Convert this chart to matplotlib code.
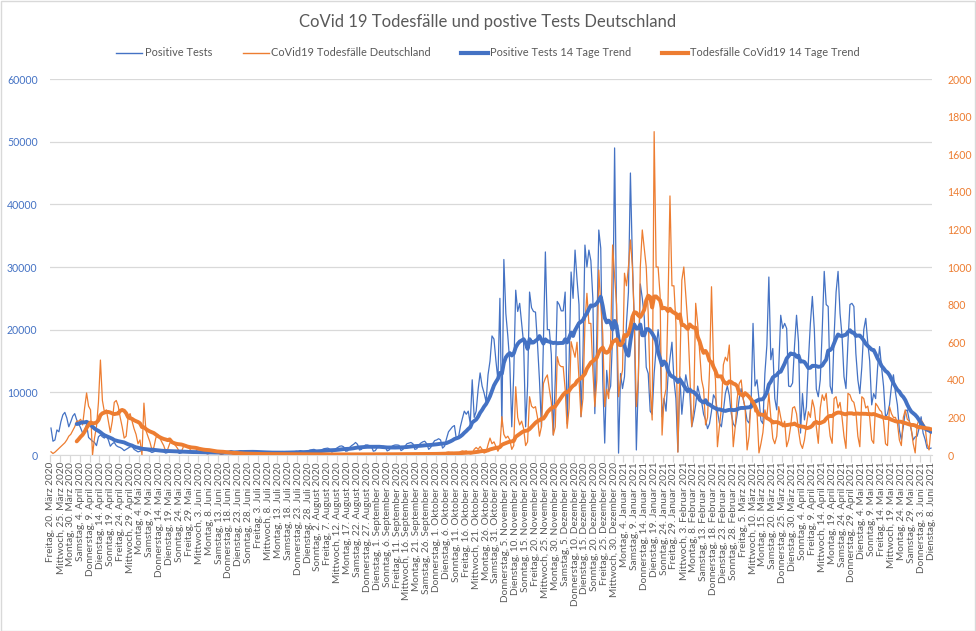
import numpy as np
import pandas as pd
import matplotlib
matplotlib.use('Agg')
import matplotlib.pyplot as plt
from matplotlib.patches import Rectangle
from matplotlib.lines import Line2D

plt.rcParams['font.family'] = ['Lato', 'DejaVu Sans']

BLUE = '#4472C4'
ORANGE = '#ED7D31'
GREY = '#595959'
GRID = '#D9D9D9'

start_date = '2020-03-20'

# daily values, one row per week (Freitag .. Donnerstag)
positive_tests = [
    [4300, 2200, 2400, 4000, 3700, 5300, 6400],
    [6800, 5900, 4500, 5300, 6200, 6600, 5600],
    [5000, 4300, 3500, 3800, 4900, 2800, 2500],
    [2200, 2000, 1500, 2900, 3200, 2900, 2700],
    [3100, 2400, 1400, 1800, 2000, 1500, 1300],
    [1200, 1000, 700, 900, 1100, 1300, 1400],
    [900, 700, 500, 600, 800, 1000, 900],
    [700, 600, 400, 500, 700, 800, 700],
    [600, 500, 300, 400, 600, 700, 600],
    [500, 450, 250, 350, 500, 600, 550],
    [500, 400, 250, 300, 450, 550, 500],
    [450, 350, 200, 250, 400, 500, 450],
    [400, 300, 200, 250, 400, 550, 600],
    [700, 600, 500, 300, 600, 700, 600],
    [500, 400, 250, 300, 450, 500, 450],
    [450, 350, 200, 300, 400, 500, 450],
    [400, 350, 200, 250, 400, 550, 500],
    [550, 400, 250, 300, 500, 600, 550],
    [700, 600, 300, 450, 650, 800, 850],
    [900, 750, 400, 550, 850, 1000, 1050],
    [1100, 900, 450, 600, 1000, 1200, 1400],
    [1450, 1300, 600, 650, 1200, 1500, 1700],
    [2000, 1700, 800, 900, 1300, 1600, 1600],
    [1500, 1400, 600, 700, 1200, 1400, 1300],
    [1400, 1300, 650, 800, 1300, 1500, 1600],
    [1600, 1550, 700, 900, 1400, 1800, 1900],
    [2000, 1800, 900, 1000, 1600, 1900, 2100],
    [2200, 1800, 900, 1200, 1800, 2300, 2400],
    [2600, 2400, 1100, 1400, 2600, 3700, 4100],
    [4500, 4700, 2500, 2700, 4500, 5800, 7000],
    [6500, 7000, 5000, 12000, 6000, 7000, 10500],
    [13100, 11000, 9900, 8500, 12800, 15000, 19000],
    [18500, 15000, 12000, 25000, 4500, 31200, 22600],
    [19000, 14700, 4500, 13000, 26300, 22900, 24200],
    [21000, 17800, 4500, 11000, 26000, 23500, 22900],
    [22800, 17800, 12000, 4500, 18000, 32400, 20000],
    [20000, 16000, 3200, 12000, 24500, 24000, 23000],
    [23000, 26000, 5000, 15000, 29200, 25000, 32700],
    [28000, 24000, 6100, 16000, 33500, 30000, 32700],
    [31000, 25000, 6600, 19000, 35900, 33000, 12000],
    [1900, 13500, 10000, 11000, 19000, 49000, 22000],
    [300, 13000, 10600, 12500, 21000, 26000, 45000],
    [31000, 21000, 800, 12000, 27300, 25000, 22000],
    [14000, 13000, 7000, 6500, 13000, 17000, 20000],
    [17000, 6100, 9000, 7000, 12500, 15400, 18000],
    [12000, 9000, 500, 12500, 6500, 10000, 12800],
    [11000, 10000, 4500, 6000, 8000, 11000, 9600],
    [8500, 6500, 5600, 4200, 5000, 7000, 9600],
    [9000, 7000, 5100, 4500, 7000, 9800, 11000],
    [9500, 6600, 5000, 4500, 6500, 9000, 10600],
    [9000, 7500, 5500, 5100, 8000, 21000, 11000],
    [12000, 9000, 5500, 5000, 13000, 17500, 28400],
    [15200, 17000, 9000, 7200, 14000, 22300, 20200],
    [21000, 20200, 11000, 10900, 11500, 17500, 22300],
    [18000, 3500, 9800, 5600, 7700, 15000, 21000],
    [25300, 20000, 10500, 9300, 12000, 20000, 29300],
    [24000, 23700, 11000, 9800, 19000, 26000, 29300],
    [22600, 19000, 12500, 10600, 18000, 24000, 24200],
    [23700, 16200, 12000, 9800, 14000, 20000, 21800],
    [18000, 15000, 8000, 9800, 9000, 14000, 17300],
    [14000, 11000, 6000, 6600, 8000, 11000, 12800],
    [10000, 8000, 4000, 2400, 4500, 7000, 7200],
    [5500, 4000, 2400, 2900, 3000, 4300, 6100],
    [3500, 2500, 1100, 1000, 1100],
]

deaths = [
    [17, 8, 15, 25, 35, 45, 55],
    [65, 80, 100, 110, 130, 150, 180],
    [180, 190, 160, 250, 330, 260, 240],
    [0, 90, 150, 280, 505, 290, 230],
    [240, 180, 120, 180, 280, 290, 260],
    [200, 150, 90, 100, 200, 220, 180],
    [140, 110, 60, 80, 0, 276, 130],
    [100, 70, 30, 40, 90, 110, 90],
    [70, 50, 20, 30, 60, 80, 60],
    [50, 35, 15, 20, 45, 55, 40],
    [35, 20, 10, 12, 30, 35, 28],
    [25, 15, 6, 8, 20, 25, 18],
    [14, 8, 3, 5, 12, 14, 10],
    [10, 5, 2, 3, 8, 9, 7],
    [8, 4, 1, 2, 7, 9, 6],
    [6, 3, 1, 2, 6, 8, 5],
    [5, 3, 0, 1, 5, 7, 5],
    [5, 2, 0, 1, 4, 6, 5],
    [4, 2, 0, 1, 5, 6, 4],
    [5, 3, 0, 1, 4, 5, 4],
    [4, 2, 0, 1, 4, 6, 5],
    [5, 3, 1, 1, 5, 6, 4],
    [4, 2, 0, 1, 5, 7, 5],
    [5, 3, 0, 2, 6, 8, 5],
    [6, 3, 0, 2, 5, 7, 6],
    [5, 3, 1, 2, 6, 8, 6],
    [6, 4, 1, 2, 7, 9, 7],
    [8, 4, 1, 3, 9, 12, 10],
    [12, 6, 2, 4, 14, 16, 14],
    [14, 8, 3, 5, 18, 22, 20],
    [22, 14, 5, 8, 30, 40, 30],
    [45, 30, 10, 15, 55, 90, 60],
    [70, 45, 20, 44, 204, 110, 90],
    [100, 80, 30, 50, 363, 200, 160],
    [180, 140, 50, 70, 310, 260, 250],
    [257, 200, 100, 151, 380, 408, 426],
    [350, 280, 106, 150, 523, 480, 470],
    [470, 350, 142, 250, 603, 560, 520],
    [600, 400, 204, 300, 700, 860, 700],
    [700, 450, 257, 400, 984, 800, 650],
    [257, 350, 300, 600, 1117, 950, 800],
    [310, 400, 450, 967, 900, 1000, 1144],
    [1000, 700, 257, 400, 1000, 1197, 1100],
    [1000, 750, 350, 186, 1720, 1000, 1000],
    [850, 106, 300, 350, 800, 1378, 900],
    [900, 700, 15, 450, 930, 1000, 851],
    [700, 450, 151, 250, 807, 700, 550],
    [400, 350, 160, 200, 450, 895, 500],
    [400, 44, 150, 250, 480, 520, 500],
    [585, 300, 44, 150, 300, 380, 399],
    [300, 250, 27, 100, 300, 280, 230],
    [230, 11, 60, 120, 240, 200, 328],
    [200, 89, 60, 100, 257, 200, 150],
    [180, 44, 80, 150, 250, 257, 220],
    [130, 60, 35, 80, 160, 230, 200],
    [293, 250, 150, 62, 250, 320, 290],
    [328, 200, 100, 62, 300, 310, 250],
    [280, 200, 100, 35, 328, 320, 290],
    [280, 230, 100, 44, 310, 300, 250],
    [260, 200, 80, 62, 275, 260, 240],
    [230, 180, 60, 50, 257, 220, 200],
    [200, 170, 80, 50, 200, 240, 190],
    [180, 140, 60, 11, 160, 190, 186],
    [170, 150, 60, 27, 143],
]

weekdays = ['Montag', 'Dienstag', 'Mittwoch', 'Donnerstag', 'Freitag', 'Samstag', 'Sonntag']
months = ['Januar', 'Februar', 'März', 'April', 'Mai', 'Juni', 'Juli', 'August',
          'September', 'Oktober', 'November', 'Dezember']

pos = pd.Series([v for w in positive_tests for v in w], dtype=float)
dead = pd.Series([v for w in deaths for v in w], dtype=float)
n = len(pos)
days = pd.date_range(start_date, periods=n, freq='D')
x = np.arange(n)

# 14 Tage gleitender Durchschnitt (wie Excel-Trendlinie)
pos_trend = pos.rolling(14).mean()
dead_trend = dead.rolling(14).mean()

scale = 60000 / 2000  # right axis -> left axis

fig = plt.figure(figsize=(9.76, 6.31), dpi=100)
ax = fig.add_axes([50 / 976, 176 / 631, 882 / 976, 376 / 631])

ax.plot(x, pos, color=BLUE, lw=0.9, zorder=2)
ax.plot(x, dead * scale, color=ORANGE, lw=0.9, zorder=3)
ax.plot(x, pos_trend, color=BLUE, lw=2.8, zorder=4, solid_capstyle='round')
ax.plot(x, dead_trend * scale, color=ORANGE, lw=2.8, zorder=5, solid_capstyle='round')

ax.set_xlim(-0.5, n - 0.5)
ax.set_ylim(0, 60000)
ax.set_yticks(range(0, 60001, 10000))
ax.grid(axis='y', color=GRID, lw=0.9)
ax.set_axisbelow(True)
for s in ['top', 'left', 'right']:
    ax.spines[s].set_visible(False)
ax.spines['bottom'].set_color(GRID)
ax.tick_params(axis='y', length=0, labelsize=7.6, labelcolor=BLUE, pad=9)

label_pos = x[::5]
labels = ['{}, {}. {} {}'.format(weekdays[d.weekday()], d.day, months[d.month - 1], d.year)
          for d in days[::5]]
ax.set_xticks(label_pos)
ax.set_xticklabels(labels, rotation=90, fontsize=7.2, color=GREY)
ax.tick_params(axis='x', length=0, pad=5)
ax.set_xticks(np.arange(-0.5, n, 5), minor=True)
ax.tick_params(axis='x', which='minor', length=5, color=GRID, width=0.9)

sec = ax.secondary_yaxis('right', functions=(lambda v: v / scale, lambda v: v * scale))
sec.set_yticks(range(0, 2001, 200))
sec.spines['right'].set_visible(False)
sec.tick_params(length=0, labelsize=7.6, labelcolor=ORANGE, pad=11)

fig.text(0.5, 1 - 22 / 631, 'CoVid 19 Todesfälle und postive Tests Deutschland',
         ha='center', va='center', fontsize=12, color=GREY)

handles = [Line2D([], [], color=BLUE, lw=1),
           Line2D([], [], color=ORANGE, lw=1),
           Line2D([], [], color=BLUE, lw=3),
           Line2D([], [], color=ORANGE, lw=3)]
names = ['Positive Tests', 'CoVid19 Todesfälle Deutschland',
         'Positive Tests 14 Tage Trend', 'Todesfälle CoVid19 14 Tage Trend']
leg = fig.legend(handles, names, loc='center', bbox_to_anchor=(0.5, 1 - 53 / 631),
                 ncol=4, frameon=False, fontsize=7.9, handlelength=2.4,
                 handletextpad=0.2, columnspacing=2.8)
for t in leg.get_texts():
    t.set_color(GREY)

fig.add_artist(Rectangle((0.5 / 976, 0.5 / 631), 974.5 / 976, 629.5 / 631,
                         transform=fig.transFigure, fill=False,
                         edgecolor=GRID, lw=1))

fig.savefig('out.png', dpi=100)
